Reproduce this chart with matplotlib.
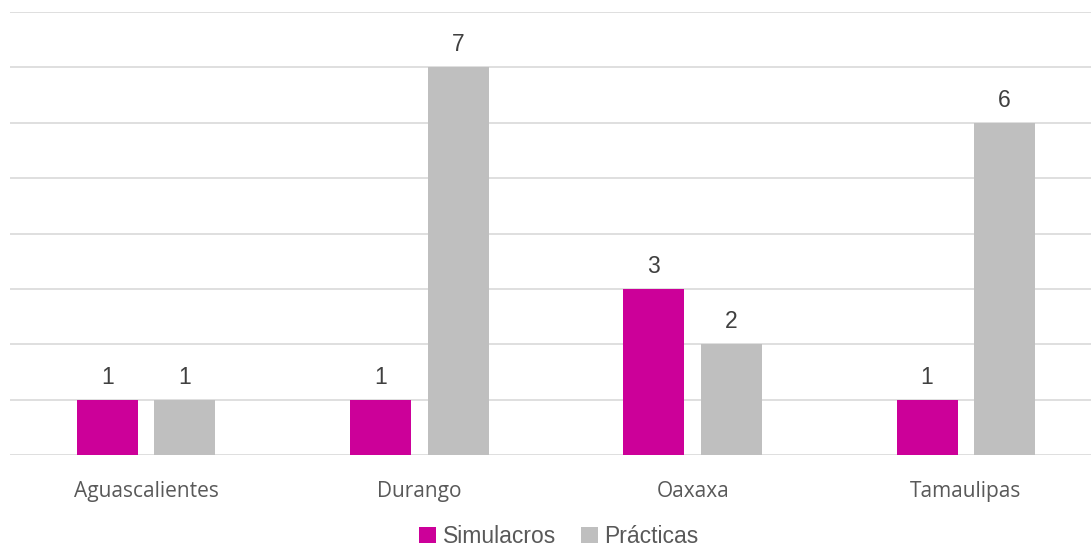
import matplotlib
matplotlib.use("Agg")
import matplotlib.pyplot as plt
import numpy as np

categories = ["Aguascalientes", "Durango", "Oaxaxa", "Tamaulipas"]
simulacros = [1, 1, 3, 1]
practicas = [1, 7, 2, 6]
series_names = ["Simulacros", "Prácticas"]
colors = ["#CC0099", "#BFBFBF"]

W, H = 1091, 548
fig = plt.figure(figsize=(W / 100, H / 100), dpi=100)
ax = fig.add_axes([9.5 / W, (H - 455) / H, 1093 / W, (455 - 12) / H])

x = np.arange(len(categories))
bw = 0.223
off = 0.142
b1 = ax.bar(x - off, simulacros, bw, color=colors[0], label=series_names[0], zorder=3)
b2 = ax.bar(x + off, practicas, bw, color=colors[1], label=series_names[1], zorder=3)

for bars in (b1, b2):
    for r in bars:
        ax.annotate(f"{int(r.get_height())}", (r.get_x() + r.get_width() / 2, r.get_height()),
                    xytext=(0, 8), textcoords="offset points", ha="center", va="bottom",
                    fontsize=16.5, color="#404040", family="Liberation Sans")

ax.set_xlim(-0.5, 3.5)
ax.set_ylim(0, 8)
ax.set_yticks(range(0, 9))
ax.yaxis.grid(True, color="#D9D9D9", linewidth=1.2, zorder=0)
ax.tick_params(axis="y", left=False, labelleft=False)
ax.tick_params(axis="x", length=0, pad=19, labelsize=15, labelcolor="#595959")
ax.set_xticks(x)
ax.set_xticklabels(categories, family="Open Sans")
for s in ax.spines.values():
    s.set_visible(False)

leg = fig.legend(loc="center", bbox_to_anchor=(559 / W, (H - 536.5) / H), ncol=2, frameon=False,
                 prop={"family": "Liberation Sans", "size": 16.5}, handlelength=0.72, handleheight=0.72,
                 handletextpad=0.3, columnspacing=1.1, labelcolor="#595959", borderpad=0.2)

fig.savefig("out.png", dpi=100)
